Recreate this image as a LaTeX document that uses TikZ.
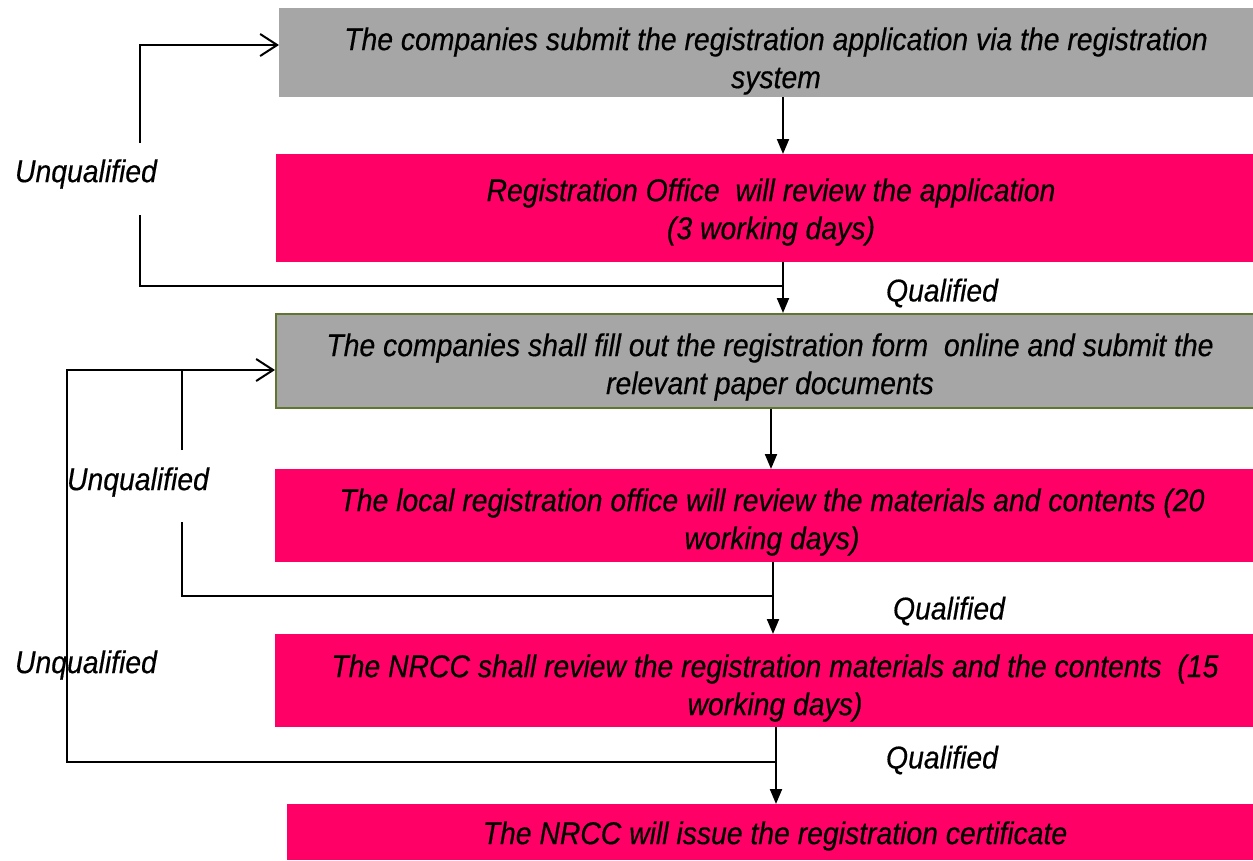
\documentclass[tikz,border=0pt]{standalone}
\usepackage{fontspec}
\setmainfont{Liberation Sans}[FakeStretch=0.9,FakeBold=0.4]
\usetikzlibrary{arrows.meta}
\definecolor{boxgray}{HTML}{A6A6A6}
\definecolor{boxpink}{HTML}{FF0066}
\definecolor{boxgreen}{HTML}{5F7530}
\begin{document}
\begin{tikzpicture}[x=1pt,y=-1pt,
  every node/.style={font=\fontsize{31.5}{38}\selectfont\itshape},
  stepbox/.style={anchor=north west, inner sep=0pt},
  graybox/.style={stepbox, fill=boxgray},
  pinkbox/.style={stepbox, fill=boxpink},
  boxtext/.style={inner sep=0pt, align=center, text=black},
  flow/.style={line width=2pt, -{Triangle[width=12pt,length=15pt]}},
  plain/.style={line width=2pt},
  back/.style={line width=2pt, -{Straight Barb[length=17pt,width=22pt]}},
  lbl/.style={inner sep=0pt}]
\useasboundingbox (0,0) rectangle (1253,860);

% boxes
\node[graybox, minimum width=974pt, minimum height=89pt] (b1) at (279,8) {};
\node[pinkbox, minimum width=977pt, minimum height=108pt] (b2) at (276,154) {};
\node[graybox, draw=boxgreen, line width=1.5pt, minimum width=978pt, minimum height=94pt] (b3) at (275,313) {};
\node[pinkbox, minimum width=978pt, minimum height=93pt] (b4) at (275,469) {};
\node[pinkbox, minimum width=978pt, minimum height=93pt] (b5) at (275,634) {};
\node[pinkbox, minimum width=966pt, minimum height=56pt] (b6) at (287,804) {};

% box texts
\node[boxtext] (t1) at (776,61)
  {The companies submit the registration application via the registration\\system};
\node[boxtext] (t2) at (771,212)
  {Registration Office~ will review the application\\(3 working days)};
\node[boxtext] (t3) at (770,367)
  {The companies shall fill out the registration form~ online and submit the\\relevant paper documents};
\node[boxtext] (t4) at (772,522)
  {The local registration office will review the materials and contents (20\\working days)};
\node[boxtext] (t5) at (775,688)
  {The NRCC shall review the registration materials and the contents~ (15\\working days)};
\node[boxtext] (t6) at (775,836)
  {The NRCC will issue the registration certificate};

% column coordinates
\coordinate (x1) at (783,0);
\coordinate (x2) at (771,0);
\coordinate (x3) at (773,0);
\coordinate (x4) at (776,0);

% main flow
\draw[flow] (b1.south -| x1) -- (b2.north -| x1);
\draw[flow] (b2.south -| x1) -- (b3.north -| x1);
\draw[flow] (b3.south -| x2) -- (b4.north -| x2);
\draw[flow] (b4.south -| x3) -- (b5.north -| x3);
\draw[flow] (b5.south -| x4) -- (b6.north -| x4);

% loop 1
\coordinate (j1) at (783,286);
\coordinate (u1a) at (140,215);
\coordinate (u1b) at (140,143);
\coordinate (c1) at (140,45);
\draw[plain] (j1) -| (u1a);
\draw[back] (u1b) |- (b1.west |- c1);

% loop 2
\coordinate (j2) at (773,596);
\coordinate (u2a) at (182,522);
\coordinate (u2b) at (182,450);
\coordinate (c2) at (67,370);
\draw[plain] (j2) -| (u2a);
\draw[plain] (u2b) -- (u2b |- c2);

% loop 3
\coordinate (j3) at (776,762);
\draw[back] (j3) -| (c2) -- (b3.west |- c2);

% labels
\node[lbl] (q1) at (942,293) {Qualified};
\node[lbl] (q2) at (949,611) {Qualified};
\node[lbl] (q3) at (942,760) {Qualified};
\node[lbl] (n1) at (86,174) {Unqualified};
\node[lbl] (n2) at (138,482) {Unqualified};
\node[lbl] (n3) at (86,665) {Unqualified};
\end{tikzpicture}
\end{document}
